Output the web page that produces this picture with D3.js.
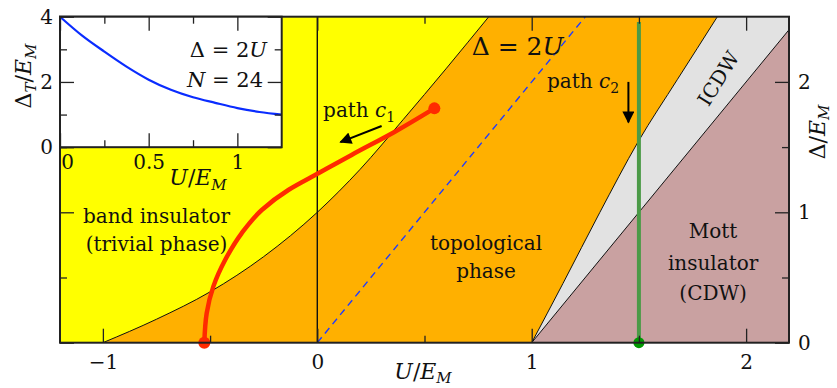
<!DOCTYPE html>
<html>
<head>
<meta charset="utf-8">
<script src="https://cdn.jsdelivr.net/npm/d3@7"></script>
<style>
  body { margin: 0; background: #fff; }
  text { font-family: "DejaVu Serif", serif; fill: #111; }
</style>
</head>
<body>
<div id="svg_area"></div>
<script>
// Phase diagram data, points are [U/E_M, Delta/E_M]
var trivialEdge = [[-1, 0], [-0.75, 0.18], [-0.5, 0.39], [-0.25, 0.66], [0, 1.0], [0.2, 1.33],
  [0.4, 1.71], [0.6, 2.1], [0.8, 2.5], [0.9, 2.7]];
var icdwEdge = [[1, 0], [1.146, 0.455], [1.318, 1.0], [1.496, 1.54], [1.68, 2.02], [1.862, 2.49], [1.9, 2.59]];
var mottEdge = [[1, 0], [2.2, 2.4], [2.4, 2.8]];
var dashedLine = [[0, 0], [1.25, 2.5]];   // Delta = 2U

// path c1 (red) and path c2 (green)
var pathC1 = [[-0.527, 0], [-0.516, 0.225], [-0.485, 0.43], [-0.43, 0.634], [-0.353, 0.839],
  [-0.259, 1.018], [-0.135, 1.171], [0.005, 1.299], [0.16, 1.44], [0.362, 1.618], [0.546, 1.797]];
var pathC2 = [[1.5, 0], [1.5, 2.46]];

// inset: Delta_T/E_M vs U/E_M
var insetU = [0, 0.125, 0.25, 0.375, 0.5, 0.625, 0.75, 0.875, 1.0, 1.125, 1.25];
var insetGap = [4, 3.42, 2.93, 2.47, 2.07, 1.76, 1.53, 1.36, 1.20, 1.08, 1.0];

// tick values
var xMajor = [-1, 0, 1, 2], xMinor = [-0.5, 0.5, 1.5];
var yMajor = [0, 1, 2], yMinor = [0.5, 1.5];
var ixMajor = [0, 0.5, 1], ixMinor = [0.25, 0.75];
var iyMajor = [0, 2, 4], iyMinor = [1, 3];

var svgWidth = 837, svgHeight = 388;

var svg = d3.select("#svg_area")
  .append("svg")
  .attr("width", svgWidth)
  .attr("height", svgHeight);

// main scales
var x = d3.scaleLinear().domain([-1.2, 2.2]).range([60, 789]);
var y = d3.scaleLinear().domain([0, 2.5]).range([342.7, 16.7]);

var line = d3.line().x(d => x(d[0])).y(d => y(d[1]));
var smooth = d3.line().x(d => x(d[0])).y(d => y(d[1])).curve(d3.curveMonotoneX);

svg.append("clipPath").attr("id", "plotClip")
  .append("rect")
  .attr("x", x(-1.2)).attr("y", y(2.5))
  .attr("width", x(2.2) - x(-1.2)).attr("height", y(0) - y(2.5));

var plot = svg.append("g").attr("clip-path", "url(#plotClip)");

// regions
plot.append("rect")
  .attr("x", x(-1.2)).attr("y", y(2.5))
  .attr("width", x(2.2) - x(-1.2)).attr("height", y(0) - y(2.5))
  .attr("fill", "#ffff00");

// topological phase: between the trivial edge and the ICDW edge
var backEdge = smooth(icdwEdge.slice().reverse()).replace(/^M/, "L");
plot.append("path")
  .attr("d", smooth(trivialEdge) + backEdge + "Z")
  .attr("fill", "#ffb000");

plot.append("path")
  .attr("d", smooth(icdwEdge) + "L" + x(2.4) + "," + y(2.7) + "L" + x(2.4) + "," + y(0) + "Z")
  .attr("fill", "#e2e2e2");

plot.append("path")
  .attr("d", line(mottEdge.concat([[2.4, 0]])) + "Z")
  .attr("fill", "#c9a1a1");

// boundaries
[trivialEdge, icdwEdge, mottEdge].forEach(function(edge) {
  plot.append("path")
    .attr("d", smooth(edge))
    .attr("fill", "none")
    .attr("stroke", "#111")
    .attr("stroke-width", 1);
});

plot.append("path")
  .attr("d", line(dashedLine))
  .attr("fill", "none")
  .attr("stroke", "#1f3cff")
  .attr("stroke-width", 1.4)
  .attr("stroke-dasharray", "7,5");

plot.append("line")
  .attr("x1", x(0)).attr("x2", x(0))
  .attr("y1", y(0)).attr("y2", y(2.5))
  .attr("stroke", "#111")
  .attr("stroke-width", 1.4);

// paths c1 and c2
plot.append("path")
  .attr("d", d3.line().x(d => x(d[0])).y(d => y(d[1])).curve(d3.curveMonotoneY)(pathC1))
  .attr("fill", "none")
  .attr("stroke", "#ff2a00")
  .attr("stroke-width", 4.5);

plot.append("path")
  .attr("d", line(pathC2))
  .attr("fill", "none")
  .attr("stroke", "#4b9a47")
  .attr("stroke-width", 4);

svg.selectAll(".c1dot")
  .data([pathC1[0], pathC1[pathC1.length - 1]])
  .enter()
  .append("circle")
  .attr("cx", d => x(d[0]))
  .attr("cy", d => y(d[1]))
  .attr("r", 6)
  .attr("fill", "#ff2a00");

svg.append("circle")
  .attr("cx", x(pathC2[0][0]))
  .attr("cy", y(pathC2[0][1]))
  .attr("r", 5.5)
  .attr("fill", "#009900");

// frame
svg.append("rect")
  .attr("x", x(-1.2)).attr("y", y(2.5))
  .attr("width", x(2.2) - x(-1.2)).attr("height", y(0) - y(2.5))
  .attr("fill", "none")
  .attr("stroke", "#222")
  .attr("stroke-width", 2);

// axes helper: inward ticks, no domain line
function drawAxis(axis, tx, ty, values, size, pad, labels) {
  var g = svg.append("g")
    .attr("transform", `translate(${tx}, ${ty})`)
    .call(axis.tickValues(values).tickSize(-size).tickPadding(pad)
      .tickFormat(labels ? d3.format("") : ""));
  g.select(".domain").remove();
  g.selectAll("line").attr("stroke", "#222").attr("stroke-width", 1.3);
  g.attr("font-size", 20).attr("font-family", "DejaVu Serif");
  return g;
}

drawAxis(d3.axisBottom(x), 0, y(0), xMajor, 14, 12, true);
drawAxis(d3.axisBottom(x), 0, y(0), xMinor, 7, 12, false);
drawAxis(d3.axisTop(x), 0, y(2.5), xMajor, 14, 0, false);
drawAxis(d3.axisTop(x), 0, y(2.5), xMinor, 7, 0, false);
drawAxis(d3.axisLeft(y), x(-1.2), 0, yMajor, 14, 0, false);
drawAxis(d3.axisLeft(y), x(-1.2), 0, yMinor, 7, 0, false);
drawAxis(d3.axisRight(y), x(2.2), 0, yMajor, 14, 9, true);
drawAxis(d3.axisRight(y), x(2.2), 0, yMinor, 7, 9, false);

// arrows
svg.append("defs").append("marker")
  .attr("id", "head")
  .attr("viewBox", "0 0 10 10")
  .attr("refX", 9).attr("refY", 5)
  .attr("markerWidth", 14).attr("markerHeight", 12)
  .attr("markerUnits", "userSpaceOnUse")
  .attr("orient", "auto")
  .append("path")
  .attr("d", "M0,0 L10,5 L0,10 Z")
  .attr("fill", "#000");

var arrows = [
  [[0.30, 1.662], [0.108, 1.538]],
  [[1.451, 2.0], [1.451, 1.69]]
];
arrows.forEach(function(a) {
  svg.append("line")
    .attr("x1", x(a[0][0])).attr("y1", y(a[0][1]))
    .attr("x2", x(a[1][0])).attr("y2", y(a[1][1]))
    .attr("stroke", "#000")
    .attr("stroke-width", 2)
    .attr("marker-end", "url(#head)");
});

// region labels
function multiLine(lines, u, deltas, size) {
  lines.forEach(function(t, i) {
    svg.append("text")
      .attr("x", x(u)).attr("y", y(deltas[i]))
      .attr("text-anchor", "middle")
      .attr("font-size", size)
      .text(t);
  });
}
multiLine(["band insulator", "(trivial phase)"], -0.75, [0.915, 0.70], 20);
multiLine(["topological", "phase"], 0.787, [0.711, 0.494], 20);
multiLine(["Mott", "insulator", "(CDW)"], 1.846, [0.803, 0.554, 0.324], 20);

svg.append("text")
  .attr("transform", `translate(${x(1.87)}, ${y(2.028)}) rotate(-58)`)
  .attr("text-anchor", "middle")
  .attr("dy", "0.36em")
  .attr("font-size", 20)
  .text("ICDW");

// Delta = 2U label
var dl = svg.append("text")
  .attr("x", x(0.72)).attr("y", y(2.206))
  .attr("font-size", 25);
dl.append("tspan").text("Δ = 2");
dl.append("tspan").attr("font-style", "italic").text("U");

// path labels
function pathLabel(u, d, sub) {
  var t = svg.append("text")
    .attr("x", x(u)).attr("y", y(d))
    .attr("font-size", 20);
  t.append("tspan").text("path ");
  t.append("tspan").attr("font-style", "italic").text("c");
  t.append("tspan").attr("font-size", 14).attr("dy", 5).text(sub);
}
pathLabel(0.027, 1.733, "1");
pathLabel(1.071, 1.951, "2");

// axis titles
function ueLabel(g, size, sdy) {
  g.append("tspan").attr("font-style", "italic").text("U");
  g.append("tspan").text("/");
  g.append("tspan").attr("font-style", "italic").text("E");
  g.append("tspan").attr("font-style", "italic").attr("font-size", size * 0.68).attr("dy", sdy).text("M");
}
var xl = svg.append("text")
  .attr("x", 423).attr("y", 379)
  .attr("text-anchor", "middle")
  .attr("font-size", 22);
ueLabel(xl, 22, 4);

var yl = svg.append("text")
  .attr("transform", "translate(825, 132) rotate(-90)")
  .attr("text-anchor", "middle")
  .attr("font-size", 22);
yl.append("tspan").text("Δ/");
yl.append("tspan").attr("font-style", "italic").text("E");
yl.append("tspan").attr("font-style", "italic").attr("font-size", 15).attr("dy", 4).text("M");

// ---------- inset ----------
var xi = d3.scaleLinear().domain([0, 1.25]).range([60, 281.7]);
var yi = d3.scaleLinear().domain([0, 4]).range([147.2, 16.7]);

svg.append("rect")
  .attr("x", xi(0)).attr("y", yi(4))
  .attr("width", xi(1.25) - xi(0)).attr("height", yi(0) - yi(4))
  .attr("fill", "#fff");

svg.append("path")
  .datum(d3.zip(insetU, insetGap))
  .attr("d", d3.line().x(d => xi(d[0])).y(d => yi(d[1])).curve(d3.curveMonotoneX))
  .attr("fill", "none")
  .attr("stroke", "#0a2cff")
  .attr("stroke-width", 2.2);

svg.append("rect")
  .attr("x", xi(0)).attr("y", yi(4))
  .attr("width", xi(1.25) - xi(0)).attr("height", yi(0) - yi(4))
  .attr("fill", "none")
  .attr("stroke", "#222")
  .attr("stroke-width", 2);

var ixAxis = drawAxis(d3.axisBottom(xi), 0, yi(0), ixMajor, 14, 8, true);
ixAxis.selectAll("text").filter(d => d === 0).attr("x", 7);
drawAxis(d3.axisBottom(xi), 0, yi(0), ixMinor, 7, 8, false);
drawAxis(d3.axisTop(xi), 0, yi(4), ixMajor, 14, 0, false);
drawAxis(d3.axisTop(xi), 0, yi(4), ixMinor, 7, 0, false);
drawAxis(d3.axisLeft(yi), xi(0), 0, iyMajor, 14, 7, true);
drawAxis(d3.axisLeft(yi), xi(0), 0, iyMinor, 7, 7, false);
drawAxis(d3.axisRight(yi), xi(1.25), 0, iyMajor, 14, 0, false);
drawAxis(d3.axisRight(yi), xi(1.25), 0, iyMinor, 7, 0, false);

// inset annotations
var a1 = svg.append("text")
  .attr("x", 267).attr("y", 57)
  .attr("text-anchor", "end")
  .attr("font-size", 21);
a1.append("tspan").text("Δ = 2");
a1.append("tspan").attr("font-style", "italic").text("U");

var a2 = svg.append("text")
  .attr("x", 263).attr("y", 87)
  .attr("text-anchor", "end")
  .attr("font-size", 21);
a2.append("tspan").attr("font-style", "italic").text("N");
a2.append("tspan").text(" = 24");

var ixl = svg.append("text")
  .attr("x", 198).attr("y", 185)
  .attr("text-anchor", "middle")
  .attr("font-size", 22);
ueLabel(ixl, 22, 5);

var iyl = svg.append("text")
  .attr("transform", "translate(31, 76) rotate(-90)")
  .attr("text-anchor", "middle")
  .attr("font-size", 22);
iyl.append("tspan").text("Δ");
iyl.append("tspan").attr("font-style", "italic").attr("font-size", 15).attr("dy", 5).text("T");
iyl.append("tspan").attr("dy", -5).text("/");
iyl.append("tspan").attr("font-style", "italic").text("E");
iyl.append("tspan").attr("font-style", "italic").attr("font-size", 15).attr("dy", 5).text("M");
</script>
</body>
</html>
